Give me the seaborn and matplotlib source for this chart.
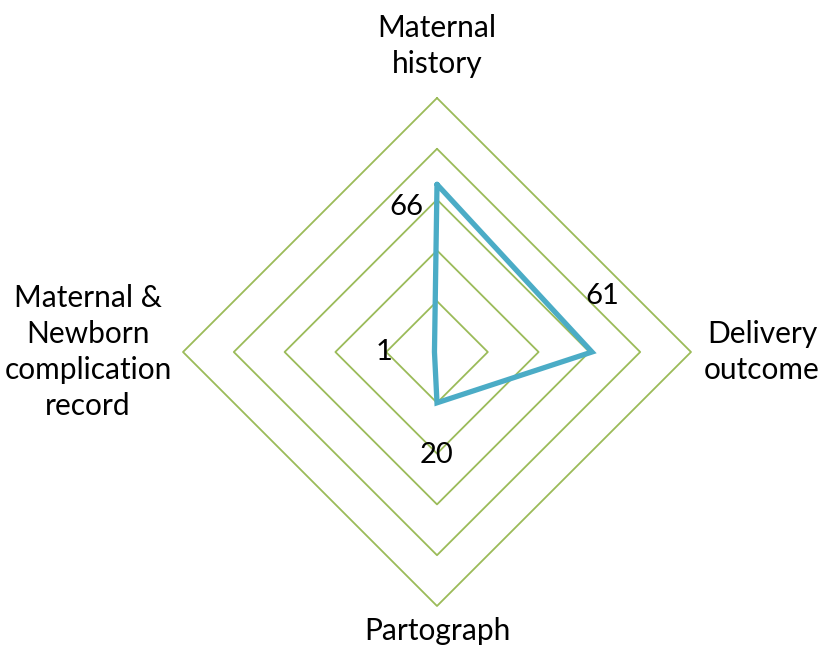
import numpy as np
import pandas as pd
import matplotlib
matplotlib.use("Agg")
import matplotlib.pyplot as plt
import seaborn as sns

categories = ["Maternal\nhistory", "Delivery\noutcome", "Partograph",
              "Maternal &\nNewborn\ncomplication\nrecord"]
values = [66, 61, 20, 1]
ring_levels = [20, 40, 60, 80, 100]

sns.set_theme(style="white")
plt.rcParams['font.family'] = ['Lato', 'DejaVu Sans']

W, H = 823, 650
fig = plt.figure(figsize=(W / 100, H / 100), dpi=100)
ax = fig.add_axes([0, 0, 1, 1])

cx, cy, scale = 437, 352, 2.54
ax.set_xlim(-cx / scale, (W - cx) / scale)
ax.set_ylim(-(H - cy) / scale, cy / scale)
ax.axis("off")

angles = np.deg2rad([90, 0, -90, 180])
grid_color = "#9BBB59"
line_color = "#4BACC6"

for lv in ring_levels:
    gx = list(lv * np.cos(angles)) + [lv * np.cos(angles[0])]
    gy = list(lv * np.sin(angles)) + [lv * np.sin(angles[0])]
    gdf = pd.DataFrame({"x": gx, "y": gy})
    sns.lineplot(data=gdf, x="x", y="y", sort=False, ax=ax, color=grid_color,
                 linewidth=1.3, estimator=None)

vx = [v * np.cos(a) for v, a in zip(values, angles)]
vy = [v * np.sin(a) for v, a in zip(values, angles)]
df = pd.DataFrame({"x": vx + [vx[0]], "y": vy + [vy[0]]})
sns.lineplot(data=df, x="x", y="y", sort=False, ax=ax, color=line_color,
             linewidth=3.8, estimator=None, solid_joinstyle="miter")

# data labels
offsets = [(-31, -23), (10, 56), (0, -52), (-50, 0)]
for x, y, v, off in zip(vx, vy, values, offsets):
    ax.annotate(str(v), (x, y), xytext=off, textcoords="offset pixels",
                ha="center", va="center", fontsize=21, color="black")

# category labels
label_pos = [(0, 120.5), (128, 0), (0, -110.0), (-137.4, 0)]
for (lx, ly), lab in zip(label_pos, categories):
    ax.text(lx, ly, lab, ha="center", va="center", fontsize=21.5,
            color="black", linespacing=1.36)

ax.set_xlabel("")
ax.set_ylabel("")
fig.savefig("out.png", dpi=100)
